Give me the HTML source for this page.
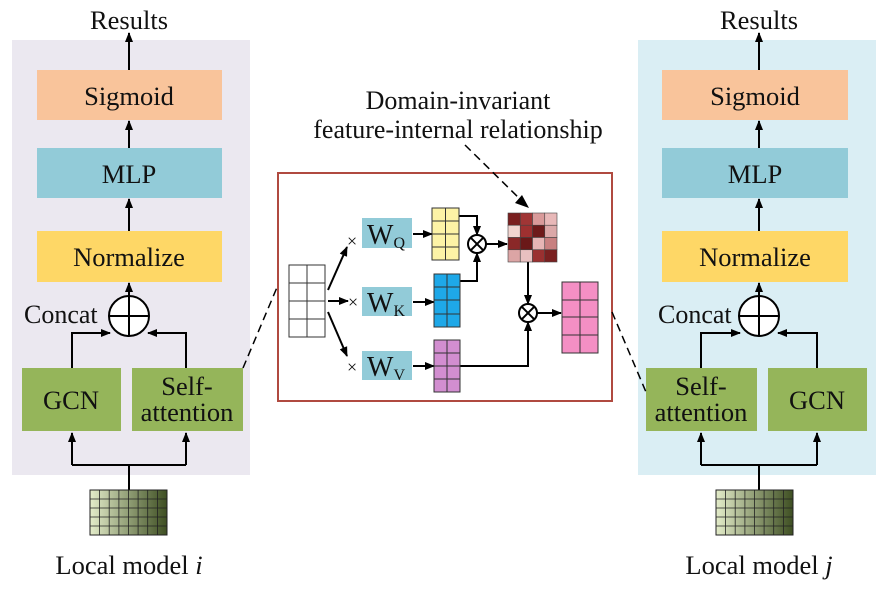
<!DOCTYPE html>
<html><head><style>
body{margin:0;background:#fff;}
svg text{font-family:"Liberation Serif","DejaVu Serif",serif;fill:#111;}
</style></head><body>
<svg width="888" height="590" viewBox="0 0 888 590" xmlns="http://www.w3.org/2000/svg" font-family="Liberation Serif, serif">
<defs>
<marker id="a" markerWidth="10" markerHeight="10" refX="9" refY="5" orient="auto" markerUnits="userSpaceOnUse"><path d="M0,1 L10,5 L0,9 Z" fill="#000"/></marker>
<linearGradient id="g" x1="0" x2="1"><stop offset="0" stop-color="#e3ecc9"/><stop offset="1" stop-color="#3e4f22"/></linearGradient>
</defs>
<!-- left panel -->
<rect x="12" y="40" width="238" height="435" fill="#ebe8f0"/>
<rect x="37" y="70" width="185" height="50" fill="#f9c49b"/>
<text x="129" y="105" font-size="26.5" text-anchor="middle">Sigmoid</text>
<rect x="37" y="148" width="185" height="50" fill="#92cbd8"/>
<text x="129" y="183" font-size="26.5" text-anchor="middle">MLP</text>
<rect x="37" y="231" width="185" height="51" fill="#fed766"/>
<text x="129" y="266" font-size="26.5" text-anchor="middle">Normalize</text>
<text x="129" y="29" font-size="26.5" text-anchor="middle">Results</text>
<g stroke="#000" stroke-width="2" fill="none">
<line x1="129" y1="70" x2="129" y2="33" marker-end="url(#a)"/>
<line x1="129" y1="148" x2="129" y2="121" marker-end="url(#a)"/>
<line x1="129" y1="231" x2="129" y2="199" marker-end="url(#a)"/>
<line x1="129" y1="296" x2="129" y2="283" marker-end="url(#a)"/>
<circle cx="129" cy="316" r="20" fill="#fff"/>
<line x1="109" y1="316" x2="149" y2="316"/><line x1="129" y1="296" x2="129" y2="336"/>
<polyline points="72,368 72,333 110,333" marker-end="url(#a)"/>
<polyline points="186,368 186,333 148,333" marker-end="url(#a)"/>
<line x1="129" y1="490" x2="129" y2="465"/>
<line x1="72" y1="465" x2="186" y2="465"/>
<line x1="72" y1="465" x2="72" y2="433" marker-end="url(#a)"/>
<line x1="186" y1="465" x2="186" y2="433" marker-end="url(#a)"/>
</g>
<text x="24" y="323" font-size="26">Concat</text>
<rect x="22" y="368" width="99" height="63" fill="#95b55a"/>
<text x="71" y="409" font-size="26.5" text-anchor="middle">GCN</text>
<rect x="132" y="368" width="111" height="63" fill="#95b55a"/>
<text x="187" y="395" font-size="26.5" text-anchor="middle">Self-</text>
<text x="187" y="421" font-size="26.5" text-anchor="middle">attention</text>
<g id="grid"><rect x="90" y="490" width="77" height="45" fill="url(#g)" stroke="#222" stroke-width="1"/>
<g stroke="#222" stroke-width="0.8">
<line x1="99.6" y1="490" x2="99.6" y2="535"/><line x1="109.2" y1="490" x2="109.2" y2="535"/><line x1="118.9" y1="490" x2="118.9" y2="535"/><line x1="128.5" y1="490" x2="128.5" y2="535"/><line x1="138.1" y1="490" x2="138.1" y2="535"/><line x1="147.7" y1="490" x2="147.7" y2="535"/><line x1="157.4" y1="490" x2="157.4" y2="535"/>
<line x1="90" y1="499" x2="167" y2="499"/><line x1="90" y1="508" x2="167" y2="508"/><line x1="90" y1="517" x2="167" y2="517"/><line x1="90" y1="526" x2="167" y2="526"/></g></g>
<text x="129" y="574" font-size="26.5" text-anchor="middle">Local model <tspan font-style="italic">i</tspan></text>

<!-- right panel -->
<rect x="638" y="40" width="238" height="435" fill="#daeef4"/>
<rect x="662" y="70" width="186" height="50" fill="#f9c49b"/>
<text x="755" y="105" font-size="26.5" text-anchor="middle">Sigmoid</text>
<rect x="662" y="148" width="186" height="50" fill="#92cbd8"/>
<text x="755" y="183" font-size="26.5" text-anchor="middle">MLP</text>
<rect x="662" y="231" width="186" height="51" fill="#fed766"/>
<text x="755" y="266" font-size="26.5" text-anchor="middle">Normalize</text>
<text x="759" y="29" font-size="26.5" text-anchor="middle">Results</text>
<g stroke="#000" stroke-width="2" fill="none">
<line x1="759" y1="70" x2="759" y2="33" marker-end="url(#a)"/>
<line x1="759" y1="148" x2="759" y2="121" marker-end="url(#a)"/>
<line x1="759" y1="231" x2="759" y2="199" marker-end="url(#a)"/>
<line x1="759" y1="296" x2="759" y2="283" marker-end="url(#a)"/>
<circle cx="759" cy="316" r="20" fill="#fff"/>
<line x1="739" y1="316" x2="779" y2="316"/><line x1="759" y1="296" x2="759" y2="336"/>
<polyline points="701,368 701,333 740,333" marker-end="url(#a)"/>
<polyline points="817,368 817,333 778,333" marker-end="url(#a)"/>
<line x1="759" y1="490" x2="759" y2="465"/>
<line x1="701" y1="465" x2="817" y2="465"/>
<line x1="701" y1="465" x2="701" y2="433" marker-end="url(#a)"/>
<line x1="817" y1="465" x2="817" y2="433" marker-end="url(#a)"/>
</g>
<text x="658" y="323" font-size="26">Concat</text>
<rect x="646" y="368" width="111" height="63" fill="#95b55a"/>
<text x="701" y="395" font-size="26.5" text-anchor="middle">Self-</text>
<text x="701" y="421" font-size="26.5" text-anchor="middle">attention</text>
<rect x="768" y="368" width="99" height="63" fill="#95b55a"/>
<text x="817" y="409" font-size="26.5" text-anchor="middle">GCN</text>
<use href="#grid" x="626" y="0"/>
<text x="759" y="574" font-size="26.5" text-anchor="middle">Local model <tspan font-style="italic">j</tspan></text>

<!-- center box -->
<rect x="278" y="173" width="334" height="228" fill="#fff" stroke="#b04a40" stroke-width="2"/>

<!-- dashed connectors -->
<g stroke="#000" stroke-width="1.5" stroke-dasharray="8,5" fill="none">
<line x1="243" y1="368" x2="278" y2="285"/>
<line x1="612" y1="312" x2="646" y2="392"/>
<line x1="465" y1="145" x2="522" y2="201"/>
</g>
<path d="M529,208 L515,203 L522,195 Z" fill="#000"/>
<text x="458" y="109" font-size="26" text-anchor="middle">Domain-invariant</text>
<text x="458" y="138" font-size="26" text-anchor="middle">feature-internal relationship</text>

<g stroke="#333" stroke-width="1">
<rect x="289" y="265" width="36" height="72" fill="#fff"/>
<line x1="307" y1="265" x2="307" y2="337"/><line x1="289" y1="283" x2="325" y2="283"/><line x1="289" y1="301" x2="325" y2="301"/><line x1="289" y1="319" x2="325" y2="319"/>
</g>
<g stroke="#000" stroke-width="2" fill="none">
<line x1="328" y1="290" x2="347" y2="247" marker-end="url(#a)"/>
<line x1="328" y1="301" x2="348" y2="301" marker-end="url(#a)"/>
<line x1="328" y1="312" x2="347" y2="356" marker-end="url(#a)"/>
<line x1="413" y1="234" x2="432" y2="234" marker-end="url(#a)"/>
<line x1="413" y1="302" x2="434" y2="302" marker-end="url(#a)"/>
<line x1="413" y1="366" x2="434" y2="366" marker-end="url(#a)"/>
<polyline points="459,216 477,216 477,235" marker-end="url(#a)"/>
<polyline points="460,281 477,281 477,253" marker-end="url(#a)"/>
<line x1="486" y1="244" x2="507" y2="244" marker-end="url(#a)"/>
<line x1="528" y1="262" x2="528" y2="304" marker-end="url(#a)"/>
<polyline points="460,366 528,366 528,322" marker-end="url(#a)"/>
<line x1="537" y1="313" x2="561" y2="313" marker-end="url(#a)"/>
<circle cx="477" cy="244" r="9" fill="#fff"/>
<line x1="470.6" y1="237.6" x2="483.4" y2="250.4"/><line x1="483.4" y1="237.6" x2="470.6" y2="250.4"/>
<circle cx="528" cy="313" r="9" fill="#fff"/>
<line x1="521.6" y1="306.6" x2="534.4" y2="319.4"/><line x1="534.4" y1="306.6" x2="521.6" y2="319.4"/>
</g>
<text x="347" y="247" font-size="18">×</text>
<text x="348" y="308" font-size="18">×</text>
<text x="347" y="373" font-size="18">×</text>
<rect x="362" y="218" width="50" height="30" fill="#92cbd8"/>
<text x="367" y="244" font-size="28">W<tspan font-size="16" dy="4">Q</tspan></text>
<rect x="362" y="287" width="50" height="29" fill="#92cbd8"/>
<text x="367" y="312" font-size="28">W<tspan font-size="16" dy="4">K</tspan></text>
<rect x="362" y="351" width="50" height="29" fill="#92cbd8"/>
<text x="367" y="376" font-size="28">W<tspan font-size="16" dy="4">V</tspan></text>
<g stroke="#333" stroke-width="1">
<rect x="432" y="208" width="27" height="52" fill="#fdf3a6"/>
<line x1="445.5" y1="208" x2="445.5" y2="260"/><line x1="432" y1="221" x2="459" y2="221"/><line x1="432" y1="234" x2="459" y2="234"/><line x1="432" y1="247" x2="459" y2="247"/>
<rect x="434" y="274" width="26" height="53" fill="#1ea8e8"/>
<line x1="447" y1="274" x2="447" y2="327"/><line x1="434" y1="287" x2="460" y2="287"/><line x1="434" y1="300" x2="460" y2="300"/><line x1="434" y1="314" x2="460" y2="314"/>
<rect x="434" y="340" width="26" height="52" fill="#d28ed0"/>
<line x1="447" y1="340" x2="447" y2="392"/><line x1="434" y1="353" x2="460" y2="353"/><line x1="434" y1="366" x2="460" y2="366"/><line x1="434" y1="379" x2="460" y2="379"/>
<rect x="562" y="282" width="36" height="71" fill="#f48fc4"/>
<line x1="580" y1="282" x2="580" y2="353"/><line x1="562" y1="300" x2="598" y2="300"/><line x1="562" y1="317" x2="598" y2="317"/><line x1="562" y1="335" x2="598" y2="335"/>
</g>
<g stroke="#444" stroke-width="0.6">
<rect x="508" y="213" width="12.25" height="12.25" fill="#7a1f1f"/><rect x="520.25" y="213" width="12.25" height="12.25" fill="#a03535"/><rect x="532.5" y="213" width="12.25" height="12.25" fill="#d99a9a"/><rect x="544.75" y="213" width="12.25" height="12.25" fill="#e8b8b8"/>
<rect x="508" y="225.25" width="12.25" height="12.25" fill="#f2d5d0"/><rect x="520.25" y="225.25" width="12.25" height="12.25" fill="#9e3030"/><rect x="532.5" y="225.25" width="12.25" height="12.25" fill="#6e1a1a"/><rect x="544.75" y="225.25" width="12.25" height="12.25" fill="#dba8a8"/>
<rect x="508" y="237.5" width="12.25" height="12.25" fill="#8a2828"/><rect x="520.25" y="237.5" width="12.25" height="12.25" fill="#6a1818"/><rect x="532.5" y="237.5" width="12.25" height="12.25" fill="#e6b5b5"/><rect x="544.75" y="237.5" width="12.25" height="12.25" fill="#c88080"/>
<rect x="508" y="249.75" width="12.25" height="12.25" fill="#dca5a5"/><rect x="520.25" y="249.75" width="12.25" height="12.25" fill="#e8c0c0"/><rect x="532.5" y="249.75" width="12.25" height="12.25" fill="#9a3030"/><rect x="544.75" y="249.75" width="12.25" height="12.25" fill="#7a2020"/>
</g>
</svg>
</body></html>
